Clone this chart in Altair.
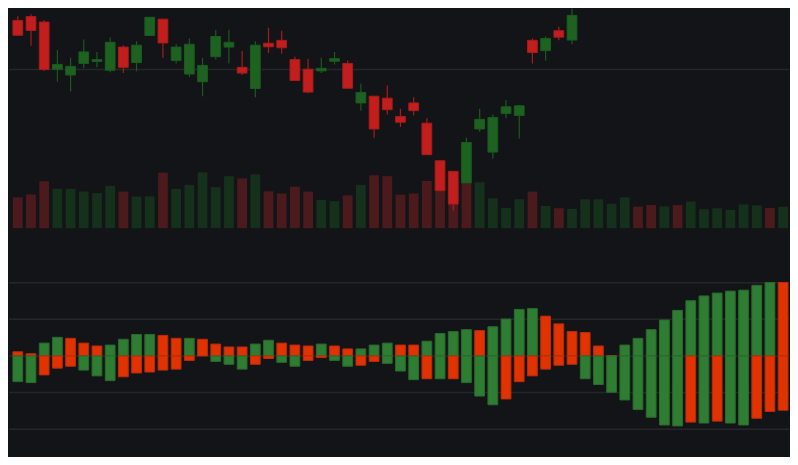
import altair as alt
import pandas as pd

# ---- candles (index 0..42 visible; later candles are above the visible area) ----
c_open  = [55.10, 55.50, 54.93, 50.03, 49.43, 50.63, 50.83, 49.93, 52.33, 50.73,
           53.53, 55.23, 50.93, 49.53, 48.73, 51.33, 52.33, 50.23, 48.03, 52.73,
           53.03, 51.03, 50.03, 49.86, 50.86, 50.63, 46.53, 47.23, 47.03, 45.13,
           46.53, 44.43, 40.53, 39.43, 38.23, 43.83, 41.43, 45.43, 45.23, 53.03,
           51.96, 54.03, 53.06]
c_high  = [55.53, 55.73, 55.13, 52.03, 51.23, 53.13, 51.83, 53.33, 52.53, 52.93,
           55.43, 55.23, 52.63, 53.23, 51.23, 54.13, 54.13, 51.93, 52.93, 54.33,
           54.03, 51.33, 51.13, 51.23, 51.83, 50.93, 48.53, 47.23, 48.33, 45.93,
           47.13, 44.93, 40.53, 39.43, 42.93, 45.93, 45.33, 46.83, 46.33, 53.23,
           53.43, 54.43, 56.63]
c_low   = [53.56, 52.46, 49.86, 48.73, 47.73, 50.13, 50.23, 49.73, 49.63, 49.83,
           53.53, 51.23, 50.63, 49.23, 47.23, 51.03, 50.63, 49.43, 47.13, 51.73,
           51.63, 48.86, 47.53, 49.63, 50.53, 48.03, 45.73, 42.93, 45.33, 44.03,
           45.23, 41.16, 37.33, 35.33, 38.23, 43.53, 40.73, 44.93, 42.83, 50.63,
           50.93, 53.03, 52.63]
c_close = [53.56, 54.06, 50.00, 50.53, 50.33, 51.83, 51.03, 52.83, 50.23, 52.53,
           55.43, 52.76, 52.33, 52.63, 50.43, 53.43, 52.83, 49.63, 52.53, 52.36,
           52.26, 48.86, 47.66, 50.13, 51.13, 48.06, 47.63, 43.83, 45.83, 44.53,
           45.73, 41.16, 37.43, 36.03, 42.43, 44.83, 45.03, 46.13, 46.23, 51.76,
           53.23, 53.36, 55.63]

# ---- volume (all 59 sessions, thousands) ----
volume = [32, 35, 48.7, 41, 41, 38, 36.3, 44, 38, 33,
          33, 57.7, 40.7, 45, 58, 42.7, 54, 51.7, 56, 38.3,
          36, 43, 38, 29.3, 28, 34, 45, 55, 54, 34.7,
          36, 49, 45, 40, 47, 47.7, 31, 21, 30, 38,
          23, 20.7, 20, 30, 30, 25.3, 32, 22.3, 24, 22.7,
          24, 27.7, 19.7, 20.7, 19, 24.7, 23.7, 21, 22.3]
vol_dir = list("ddduuuuudu" "uduuuuudud" "ddduududdd" "ddddduuuud"
               "uduuuuuddu" "duuuuuudu")

# ---- lower panel histogram: upper and lower part of each bar ----
h_top = [0.114, 0.061, 0.351, 0.509, 0.482, 0.351, 0.272, 0.298, 0.456, 0.588,
         0.588, 0.561, 0.482, 0.482, 0.456, 0.325, 0.246, 0.246, 0.325, 0.430,
         0.351, 0.298, 0.272, 0.325, 0.272, 0.193, 0.193, 0.298, 0.351, 0.298,
         0.298, 0.404, 0.614, 0.667, 0.719, 0.693, 0.798, 1.009, 1.272, 1.298,
         1.088, 0.877, 0.667, 0.640, 0.272, 0.010, 0.298, 0.482, 0.719, 0.982,
         1.246, 1.509, 1.640, 1.719, 1.772, 1.798, 1.930, 2.009, 2.009]
h_bot = [-0.702, -0.728, -0.518, -0.333, -0.281, -0.386, -0.544, -0.675, -0.570, -0.465,
         -0.439, -0.386, -0.360, -0.123, 0.0, -0.149, -0.228, -0.360, -0.228, -0.070,
         -0.175, -0.281, -0.123, -0.044, -0.123, -0.281, -0.254, -0.149, -0.202, -0.412,
         -0.649, -0.623, -0.623, -0.623, -0.728, -1.096, -1.333, -1.175, -0.702, -0.544,
         -0.360, -0.254, -0.228, -0.623, -0.781, -0.991, -1.202, -1.465, -1.675, -1.886,
         -1.912, -1.807, -1.833, -1.781, -1.833, -1.886, -1.702, -1.518, -1.482]
h_top_col = list("rrggrrrggg" "grrgrrrrgg" "rrrgrrgggr" "rggggrgggg"
                 "rrrrrrgggg" "ggggggggr")
h_bot_col = list("ggrrrgggrr" "rrrrrgggrr" "ggrrggrrgg" "grgrgggrrr"
                 "rrrggggggg" "grgrggrrr")

price_grid = [50]
osc_grid = [-2, -1, 0, 1, 2]

BG = "#131418"
GRID = "#25262a"

n = len(volume)
cdf = pd.DataFrame({"i": list(range(len(c_open))), "o": c_open, "h": c_high,
                    "l": c_low, "c": c_close})
cdf["k"] = ["c_up" if c >= o else "c_dn" for o, c in zip(c_open, c_close)]
vdf = pd.DataFrame({"i": list(range(n)), "v": [x * 1000 for x in volume],
                    "k": ["v_up" if d == "u" else "v_dn" for d in vol_dir]})
hdf = pd.DataFrame({
    "i": list(range(n)) * 2,
    "val": h_top + h_bot,
    "k": ["m_up" if c == "g" else "m_dn" for c in h_top_col + h_bot_col],
})

keys = ["c_up", "c_dn", "v_up", "v_dn", "m_up", "m_dn"]
fills = ["#1e6221", "#c21e1e", "#15301b", "#4a1a1c", "#2f7d32", "#e03300"]
strokes = ["#1a5a1d", "#a81b1b", "#15301b", "#4a1a1c", "#29692c", "#b82c06"]
fill_enc = alt.Fill("k:N", scale=alt.Scale(domain=keys, range=fills), legend=None)
stroke_enc = alt.Stroke("k:N", scale=alt.Scale(domain=keys, range=strokes), legend=None)

xs = alt.Scale(domain=[-0.667, 58.444], nice=False, zero=False)
X = lambda f: alt.X(f, type="quantitative", scale=xs, axis=None)
price_scale = alt.Scale(domain=[9.83, 56.33], nice=False, zero=False)
vol_scale = alt.Scale(domain=[-237000, 228000], nice=False, zero=False)
osc_scale = alt.Scale(domain=[-2.745, 9.492], nice=False, zero=False)

half = 0.37

grid_top = alt.Chart(pd.DataFrame({"g": price_grid})).mark_rule(
    color=GRID, strokeWidth=1.5).encode(
    y=alt.Y("g:Q", scale=price_scale, axis=None))
grid_bot = alt.Chart(pd.DataFrame({"g": osc_grid})).mark_rule(
    color=GRID, strokeWidth=1.5).encode(
    y=alt.Y("g:Q", scale=osc_scale, axis=None))

vol = alt.Chart(vdf).transform_calculate(
    x0=f"datum.i - {half}", x1=f"datum.i + {half}", z="0").mark_rect().encode(
    x=X("x0"), x2="x1",
    y=alt.Y("v:Q", scale=vol_scale, axis=None), y2="z:Q",
    fill=fill_enc)

wick = alt.Chart(cdf).mark_rule(strokeWidth=1.2, clip=True).encode(
    x=X("i"),
    y=alt.Y("l:Q", scale=price_scale, axis=None), y2="h:Q",
    stroke=stroke_enc)

body = alt.Chart(cdf).transform_calculate(
    x0=f"datum.i - {half}", x1=f"datum.i + {half}").mark_rect(
    strokeWidth=1, clip=True).encode(
    x=X("x0"), x2="x1",
    y=alt.Y("o:Q", scale=price_scale, axis=None), y2="c:Q",
    fill=fill_enc, stroke=stroke_enc)

hist = alt.Chart(hdf).transform_filter("datum.val != 0").transform_calculate(
    x0=f"datum.i - {half}", x1=f"datum.i + {half}", z="0").mark_rect(
    strokeWidth=1).encode(
    x=X("x0"), x2="x1",
    y=alt.Y("val:Q", scale=osc_scale, axis=None), y2="z:Q",
    fill=fill_enc, stroke=stroke_enc)

chart = alt.layer(grid_top, grid_bot, vol, wick, body, hist).resolve_scale(
    y="independent").properties(
    width=782, height=449, padding=0, background=BG
).configure_view(stroke=None, fill=BG)

chart.save("out.html", embed_options={"renderer": "svg", "actions": False})
